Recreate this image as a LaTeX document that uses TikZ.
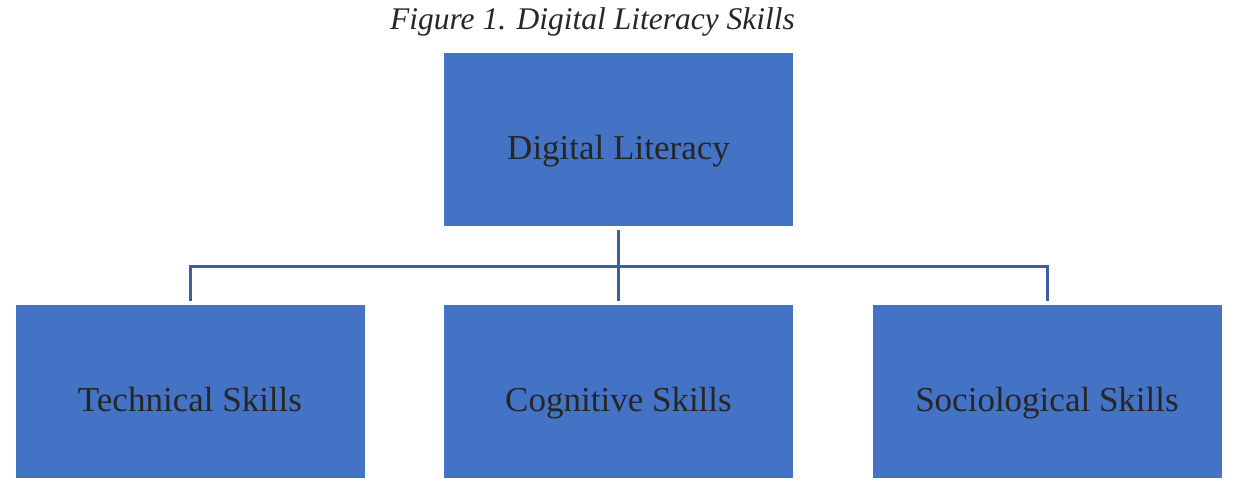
\documentclass[tikz,border=0pt]{standalone}
\usepackage{fontspec}
\setmainfont{Liberation Serif}
\usepackage{xcolor}
\definecolor{boxblue}{HTML}{4472C4}
\definecolor{lineblue}{HTML}{3F5E9E}
\tikzset{
    skill-box/.style = {fill=boxblue, draw=none, rectangle, minimum width=349pt, minimum height=173pt, inner sep=0pt, text height=43pt, text depth=4pt, font=\fontsize{35}{40}\selectfont, text=black!85},
    skill-link/.style = {draw=lineblue, line width=3pt},
    fig-title/.style = {font=\itshape\fontsize{31.5}{36}\selectfont, text=black!85, inner sep=0pt, anchor=base},
}
\begin{document}
\begin{tikzpicture}[x=1pt, y=-1pt]
\useasboundingbox (0,0) rectangle (1239,503);
\node[fig-title] (title) at (592.5,30) {Figure 1. Digital Literacy Skills};
\node[skill-box] (literacy) at (618.5,139.5) {Digital Literacy};
\node[skill-box] (technical) at (190,391.5) {Technical Skills};
\node[skill-box] (cognitive) at (618.5,391.5) {Cognitive Skills};
\node[skill-box] (sociological) at (1047,391.5) {Sociological Skills};
% branch lines
\coordinate (hub) at (618.5,266.5);
\draw[skill-link] ([yshift=-4pt]literacy.south) -- ([yshift=4pt]cognitive.north);
\draw[skill-link] ([yshift=4pt]technical.north) |- (hub) -| ([yshift=4pt]sociological.north);
\end{tikzpicture}
\end{document}
